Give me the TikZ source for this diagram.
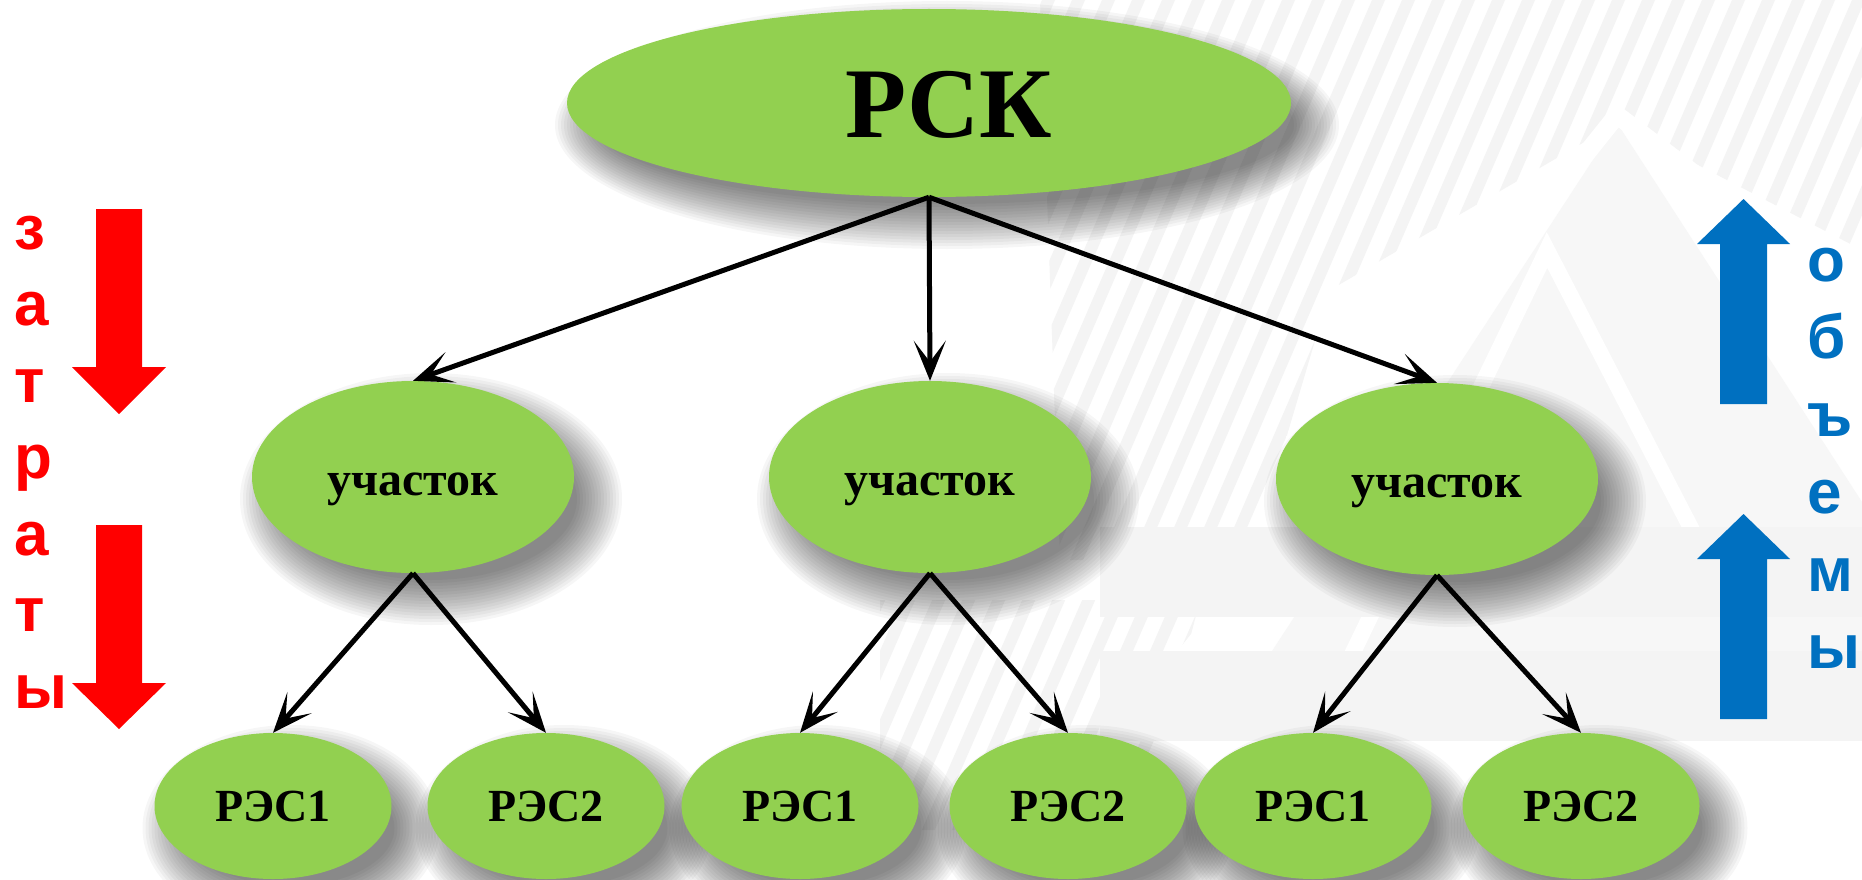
\documentclass[tikz,border=0pt]{standalone}
\usepackage{fontspec}
\setmainfont{Liberation Serif}
\newfontfamily\lettersfont{Liberation Sans}
\usetikzlibrary{arrows.meta,shapes.geometric}

\definecolor{leafgreen}{HTML}{92D050}
\definecolor{costred}{HTML}{FF0000}
\definecolor{volblue}{HTML}{0070C0}
\definecolor{wmgray}{HTML}{F4F4F4}
\definecolor{wmlight}{HTML}{F7F7F7}

\pgfdeclarelayer{backdrop}
\pgfdeclarelayer{shade}
\pgfsetlayers{backdrop,shade,main}

\begin{document}
\begin{tikzpicture}[x=1pt,y=-1pt,
  unitshape/.style={ellipse, fill=leafgreen, inner sep=0pt},
  rootnode/.style={unitshape, minimum width=724pt, minimum height=188pt,
    font=\bfseries\fontsize{100}{100}\selectfont, text height=69pt, text depth=0pt},
  sitenode/.style={unitshape, minimum width=322pt, minimum height=192pt,
    font=\bfseries\fontsize{48}{48}\selectfont, text height=36pt, text depth=0pt},
  resnode/.style={unitshape, minimum width=237pt, minimum height=146pt,
    font=\bfseries\fontsize{46}{46}\selectfont, text height=31pt, text depth=0pt},
  link/.style={line width=5pt, -{Stealth[length=40pt,width=32pt,inset=21pt]}},
  sideletter/.style={anchor=base west, inner sep=0pt,
    font=\lettersfont\bfseries\fontsize{62}{62}\selectfont},
  shadelayer/.style={fill=black, fill opacity=0.036}
]
\useasboundingbox (0,0) rectangle (1862,880);

% faint watermark: hatched area, nested triangles, horizontal bands
\begin{pgfonlayer}{backdrop}
\fill[white] (0,0) rectangle (1862,880);
\fill[wmlight] (1617,123) -- (1990,700) -- (1240,700) -- cycle;
\begin{scope}
  \clip (1040,0) -- (1862,0) -- (1862,250) -- (1617,123) -- (1330,290)
        -- (1250,560) -- (1060,560) -- cycle;
  \foreach \x in {560,590,...,1880}
    \fill[wmgray] (\x,560) -- (\x+13,560) -- (\x+255,0) -- (\x+242,0) -- cycle;
\end{scope}
\begin{scope}
  \clip (880,600) -- (1200,600) -- (1140,830) -- (880,830) -- cycle;
  \foreach \x in {600,630,...,1200}
    \fill[wmgray] (\x,880) -- (\x+13,880) -- (\x+397,0) -- (\x+384,0) -- cycle;
\end{scope}
\draw[white, line width=18pt] (1150,700) -- (1617,115) -- (1900,330);
\draw[white, line width=16pt] (1330,700) -- (1547,250) -- (1780,700);
\fill[wmgray] (1100,527) rectangle (1862,617);
\fill[wmgray] (1100,651) rectangle (1862,741);
\end{pgfonlayer}

% tree
\node[rootnode] (rsk) at (929,103) {\hspace*{40pt}РСК};

\node[sitenode] (s1) at (413,477) {участок};
\node[sitenode] (s2) at (930,477) {участок};
\node[sitenode] (s3) at (1437,479) {участок};

\node[resnode] (r11) at (273,806) {РЭС1};
\node[resnode] (r12) at (546,806) {РЭС2};
\node[resnode] (r21) at (800,806) {РЭС1};
\node[resnode] (r22) at (1068,806) {РЭС2};
\node[resnode] (r31) at (1313,806) {РЭС1};
\node[resnode] (r32) at (1581,806) {РЭС2};

% soft drop shadows, offset down and to the right
\begin{pgfonlayer}{shade}
\foreach \n/\rx/\ry in {rsk/362/94, s1/161/96, s2/161/96, s3/161/96,
    r11/118.5/73, r12/118.5/73, r21/118.5/73, r22/118.5/73,
    r31/118.5/73, r32/118.5/73}
  \foreach \k in {0,...,15}
    \fill[shadelayer] ([xshift=18pt,yshift=-22pt]\n.center)
      ellipse [x radius={\rx*1pt+30pt-3pt*\k}, y radius={\ry*1pt+30pt-3pt*\k}];
\end{pgfonlayer}

\draw[link] (rsk.south) -- (s1.north);
\draw[link] (rsk.south) -- (s2.north);
\draw[link] (rsk.south) -- (s3.north);
\draw[link] (s1.south) -- (r11.north);
\draw[link] (s1.south) -- (r12.north);
\draw[link] (s2.south) -- (r21.north);
\draw[link] (s2.south) -- (r22.north);
\draw[link] (s3.south) -- (r31.north);
\draw[link] (s3.south) -- (r32.north);

% costs: red arrows pointing down
\fill[costred] (96,209) -- (142,209) -- (142,367) -- (166,367) -- (119,414)
  -- (72,367) -- (96,367) -- cycle;
\fill[costred] (96,525) -- (142,525) -- (142,683) -- (166,683) -- (119,729)
  -- (72,683) -- (96,683) -- cycle;
\foreach \ch [count=\i from 0] in {з,а,т,р,а,т,ы}
  \node[sideletter, text=costred] (cost\i) at (14,249+76.5*\i) {\ch};

% volumes: blue arrows pointing up
\fill[volblue] (1720,404) -- (1720,244) -- (1697,244) -- (1743.5,199)
  -- (1790,244) -- (1767,244) -- (1767,404) -- cycle;
\fill[volblue] (1720,719) -- (1720,559) -- (1697,559) -- (1743.5,514)
  -- (1790,559) -- (1767,559) -- (1767,719) -- cycle;
\foreach \ch [count=\i from 0] in {о,б,ъ,е,м,ы}
  \node[sideletter, text=volblue] (vol\i) at (1807,281+77.5*\i) {\ch};
\end{tikzpicture}
\end{document}
